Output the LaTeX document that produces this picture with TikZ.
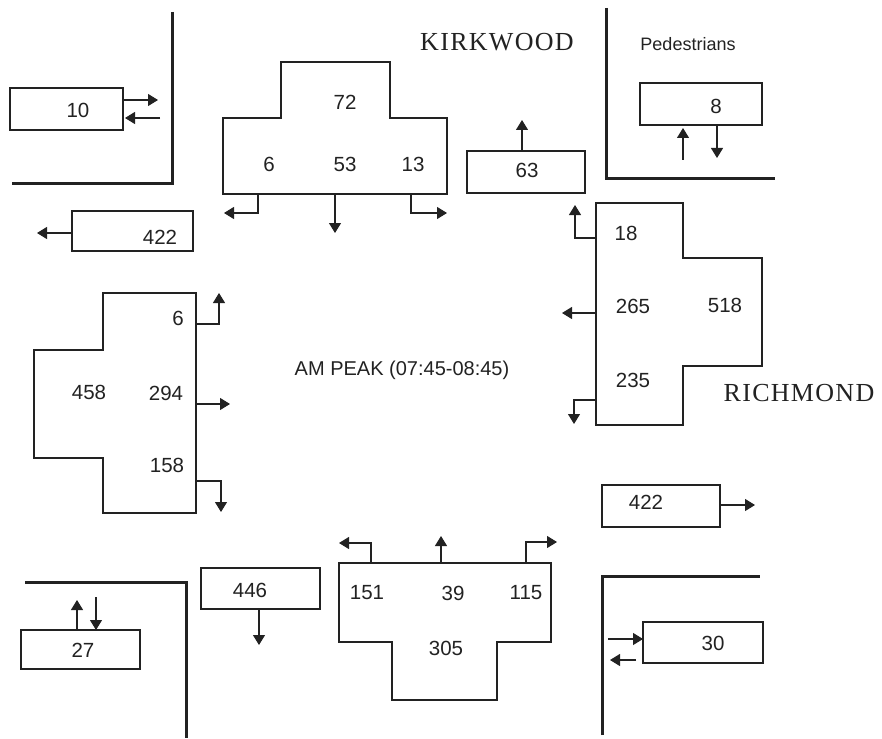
\documentclass[tikz,border=0pt]{standalone}
\usepackage{fontspec}
\setmainfont{Liberation Sans}
\newfontfamily\roadfont[LetterSpace=5]{Liberation Serif}
\usetikzlibrary{arrows.meta,fit}
\definecolor{ink}{HTML}{222222}
\tikzset{
  rectbox/.style={draw=ink,line width=1.1pt,inner sep=0pt,outer sep=0pt},
  tshape/.style={draw=ink,line width=1.1pt},
  curb/.style={draw=ink,line width=3pt},
  arr/.style={draw=ink,line width=1.1pt,-{Triangle[width=12pt,length=10pt]}},
  num/.style={font=\fontsize{20.5}{20.5}\selectfont,text=ink,inner sep=0pt},
  road/.style={font=\roadfont\fontsize{26}{26}\selectfont,text=ink,inner sep=0pt},
  lbl/.style={font=\fontsize{20}{20}\selectfont,text=ink,inner sep=0pt}
}
\begin{document}
\begin{tikzpicture}[x=1pt,y=-1pt]
\useasboundingbox[fill=white] (0,0) rectangle (882,738);

% curbs (building corners)
\draw[curb] (172,12) -- (172,183) -- (12,183);
\draw[curb] (606,8) -- (606,178) -- (775,178);
\draw[curb] (25,582) -- (186,582) -- (186,738);
\draw[curb] (602,735) -- (602,576) -- (760,576);

% street names and title
\node[road] (kirk) at (497,42) {KIRKWOOD};
\node[road] (rich) at (799,393) {RICHMOND};
\node[lbl,font=\fontsize{18}{18}\selectfont] (ped) at (688,44) {Pedestrians};
\node[lbl] (title) at (402,370) {AM PEAK (07:45-08:45)};

% ---------- north-west: box 10 ----------
\node[rectbox,fit={(10,88) (123,130)}] (b10) {};
\node[num] (t10) at (78,110) {10};
\coordinate (b10o) at (158,100);
\coordinate (b10i) at (160,118);
\draw[arr] (b10.east |- b10o) -- (b10o);
\draw[arr] (b10i) -- ([xshift=2pt]b10.east |- b10i);

% ---------- box 422 west exit ----------
\node[rectbox,fit={(72,211) (193,251)}] (bw) {};
\node[num] (tw) at (160,237) {422};
\coordinate (bwo) at (37,233);
\draw[arr] (bw.west |- bwo) -- (bwo);

% ---------- north approach ----------
\draw[tshape] (281,62) -- (390,62) -- (390,118) -- (447,118) -- (447,194)
  -- (223,194) -- (223,118) -- (281,118) -- cycle;
\coordinate (nbot) at (335,194);
\node[num] (n72) at (345,102) {72};
\node[num] (n6) at (269,164) {6};
\node[num] (n53) at (345,164) {53};
\node[num] (n13) at (413,164) {13};
\coordinate (nL) at (224,213);
\coordinate (nS) at (335,233);
\coordinate (nR) at (447,213);
\draw[arr] (258,194) -- (258,213) -- (nL);
\draw[arr] (nbot) -- (nS);
\draw[arr] (411,194) -- (411,213) -- (nR);

% ---------- box 63 north exit ----------
\node[rectbox,fit={(467,151) (585,193)}] (bn) {};
\node[num] (tn) at (527,170) {63};
\coordinate (bno) at (522,120);
\draw[arr] (bn.north -| bno) -- (bno);

% ---------- pedestrians ----------
\node[rectbox,fit={(640,83) (762,125)}] (bp) {};
\node[num] (tp) at (716,106) {8};
\coordinate (pu) at (683,128);
\coordinate (pd) at (717,158);
\draw[arr] (683,160) -- (pu);
\draw[arr] (bp.south -| pd) -- (pd);

% ---------- east approach ----------
\draw[tshape] (596,203) -- (683,203) -- (683,258) -- (762,258) -- (762,366)
  -- (683,366) -- (683,425) -- (596,425) -- cycle;
\node[num] (e18) at (626,233) {18};
\node[num] (e265) at (633,306) {265};
\node[num] (e518) at (725,305) {518};
\node[num] (e235) at (633,380) {235};
\coordinate (eR) at (575,205);
\coordinate (eS) at (562,313);
\coordinate (eL) at (574,424);
\draw[arr] (596,238) -- (575,238) -- (eR);
\draw[arr] (596,313) -- (eS);
\draw[arr] (596,400) -- (574,400) -- (eL);

% ---------- west approach ----------
\draw[tshape] (103,293) -- (196,293) -- (196,513) -- (103,513) -- (103,458)
  -- (34,458) -- (34,350) -- (103,350) -- cycle;
\node[num] (w6) at (178,318) {6};
\node[num] (w458) at (89,392) {458};
\node[num] (w294) at (166,393) {294};
\node[num] (w158) at (167,465) {158};
\coordinate (wL) at (219,293);
\coordinate (wS) at (230,404);
\coordinate (wR) at (221,512);
\draw[arr] (196,324) -- (219,324) -- (wL);
\draw[arr] (196,404) -- (wS);
\draw[arr] (196,481) -- (221,481) -- (wR);

% ---------- box 422 east exit ----------
\node[rectbox,fit={(602,485) (720,527)}] (be) {};
\node[num] (te) at (646,502) {422};
\coordinate (beo) at (755,505);
\draw[arr] (be.east |- beo) -- (beo);

% ---------- pedestrians/box 30 ----------
\node[rectbox,fit={(643,622) (763,663)}] (b30) {};
\node[num] (t30) at (713,643) {30};
\coordinate (b30i) at (608,639);
\coordinate (b30o) at (610,660);
\draw[arr] (b30i) -- (b30.west |- b30i);
\draw[arr] (636,660) -- (b30o);

% ---------- box 27 ----------
\node[rectbox,fit={(21,630) (140,669)}] (b27) {};
\node[num] (t27) at (83,650) {27};
\coordinate (b27u) at (77,600);
\coordinate (b27d) at (96,597);
\draw[arr] (b27.north -| b27u) -- (b27u);
\draw[arr] (b27d) -- (b27.north -| b27d);

% ---------- box 446 south exit ----------
\node[rectbox,fit={(201,568) (320,609)}] (bs) {};
\node[num] (ts) at (250,590) {446};
\coordinate (bso) at (259,645);
\draw[arr] (bs.south -| bso) -- (bso);

% ---------- south approach ----------
\draw[tshape] (339,563) -- (551,563) -- (551,642) -- (497,642) -- (497,700)
  -- (392,700) -- (392,642) -- (339,642) -- cycle;
\node[num] (s151) at (367,593) {151};
\node[num] (s39) at (453,593) {39};
\node[num] (s115) at (526,593) {115};
\node[num] (s305) at (446,648) {305};
\coordinate (sL) at (339,543);
\coordinate (sS) at (441,536);
\coordinate (sR) at (557,542);
\draw[arr] (371,563) -- (371,543) -- (sL);
\draw[arr] (441,563) -- (sS);
\draw[arr] (526,563) -- (526,542) -- (sR);
\end{tikzpicture}
\end{document}
